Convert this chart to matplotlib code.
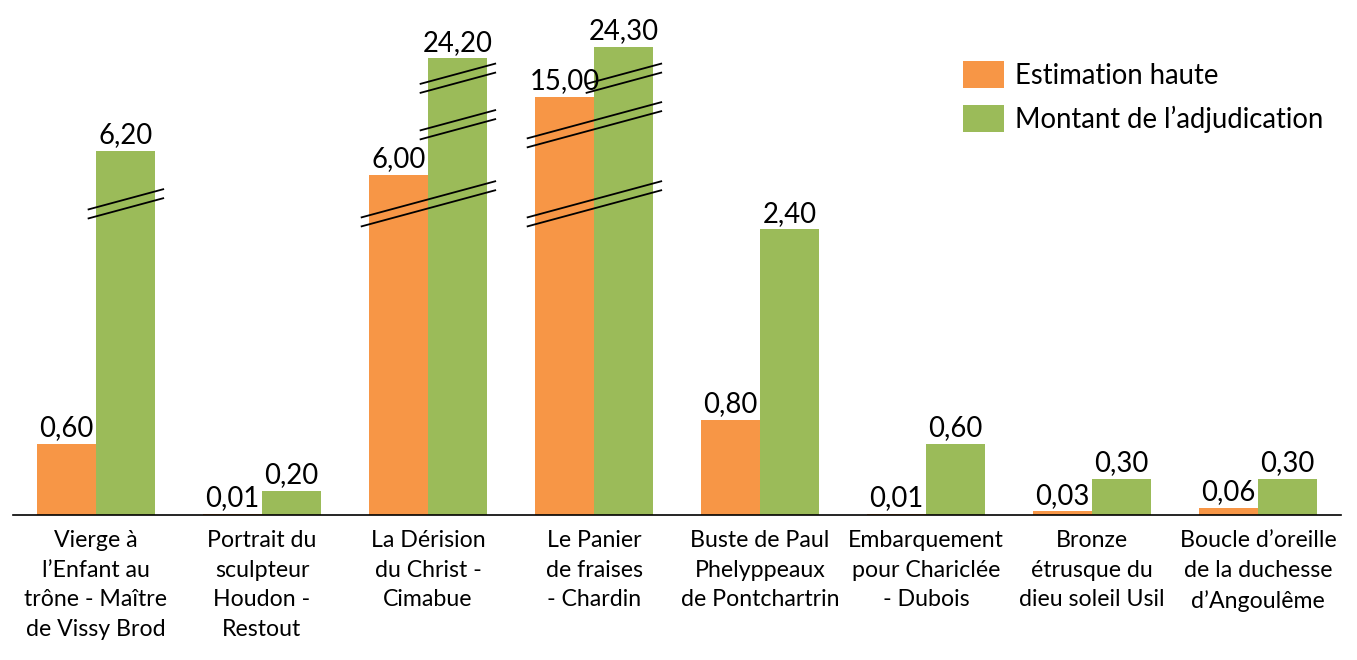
import matplotlib
matplotlib.use('Agg')
import matplotlib.pyplot as plt
import matplotlib.transforms as mtransforms
import numpy as np

categories = ["Vierge à\nl’Enfant au\ntrône - Maître\nde Vissy Brod",
              "Portrait du\nsculpteur\nHoudon -\nRestout",
              "La Dérision\ndu Christ -\nCimabue",
              "Le Panier\nde fraises\n- Chardin",
              "Buste de Paul\nPhelyppeaux\nde Pontchartrin",
              "Embarquement\npour Chariclée\n- Dubois",
              "Bronze\nétrusque du\ndieu soleil Usil",
              "Boucle d’oreille\nde la duchesse\nd’Angoulême"]
estimation = [0.60, 0.01, 6.00, 15.00, 0.80, 0.01, 0.03, 0.06]
adjudication = [6.20, 0.20, 24.20, 24.30, 2.40, 0.60, 0.30, 0.30]
series_names = ["Estimation haute", "Montant de l’adjudication"]

# broken axis: value -> drawn height (the tall bars are squeezed)
knots_val = [0, 2.4, 6.0, 6.2, 15.0, 24.2, 24.3, 40.0]
knots_pos = [0, 2.42, 2.88, 3.085, 3.54, 3.87, 3.97, 4.6]

# break marks: (category, across both bars?, value where the mark sits)
breaks = [(0, False, 4.1), (2, True, 4.1), (2, False, 10.5), (2, False, 19.5),
          (3, True, 4.1), (3, True, 10.5), (3, False, 19.5)]

ORANGE = '#F79646'
GREEN = '#9BBB59'

def forward(v):
    return np.interp(v, knots_val, knots_pos)

def inverse(p):
    return np.interp(p, knots_pos, knots_val)

plt.rcParams['font.family'] = ['Lato', 'DejaVu Sans']
FS_TICK = 16.7
FS_VAL = 19.8

W, H = 1357, 660
fig = plt.figure(figsize=(W / 100, H / 100), dpi=100)
ax = fig.add_axes([13 / W, (H - 515) / H, 1328 / W, 515 / H])
ax.set_yscale('function', functions=(forward, inverse))
ax.set_xlim(-0.5, len(categories) - 0.5)
ax.set_ylim(0, inverse(515 / 118))

x = np.arange(len(categories))
bw = 0.355
b1 = ax.bar(x - bw / 2, estimation, bw, color=ORANGE, label=series_names[0])
b2 = ax.bar(x + bw / 2, adjudication, bw, color=GREEN, label=series_names[1])

for bars, vals in ((b1, estimation), (b2, adjudication)):
    for rect, v in zip(bars, vals):
        ax.annotate(f"{v:.2f}".replace('.', ','),
                    (rect.get_x() + rect.get_width() / 2, v),
                    xytext=(0, 2), textcoords='offset points',
                    ha='center', va='bottom', fontsize=FS_VAL)

# slanted double lines for the breaks, drawn in pixel space
for i, both, level in breaks:
    x0 = i - bw - 0.05 if both else i - 0.05
    x1 = i + bw + 0.055
    (px0, py), = ax.transData.transform([(x0, level)])
    (px1, _), = ax.transData.transform([(x1, level)])
    half = 0.27 * (px1 - px0) / 2
    for off in (-4.5, 4.5):
        ax.plot([px0, px1], [py - half + off, py + half + off],
                transform=mtransforms.IdentityTransform(),
                color='black', lw=1.3, clip_on=False, solid_capstyle='butt')

ax.set_xticks(x, categories, fontsize=FS_TICK, linespacing=1.5)
ax.tick_params(axis='x', length=0, pad=11)
ax.set_yticks([])
for s in ('left', 'right', 'top'):
    ax.spines[s].set_visible(False)
ax.spines['bottom'].set_linewidth(1.2)

fig.legend(loc='upper left', bbox_to_anchor=(963 / W, 1 - 61 / H),
           frameon=False, fontsize=FS_VAL, handlelength=1.5, handleheight=1.13,
           handletextpad=0.38, labelspacing=0.6, borderpad=0, borderaxespad=0)

fig.savefig('out.png', dpi=100)
